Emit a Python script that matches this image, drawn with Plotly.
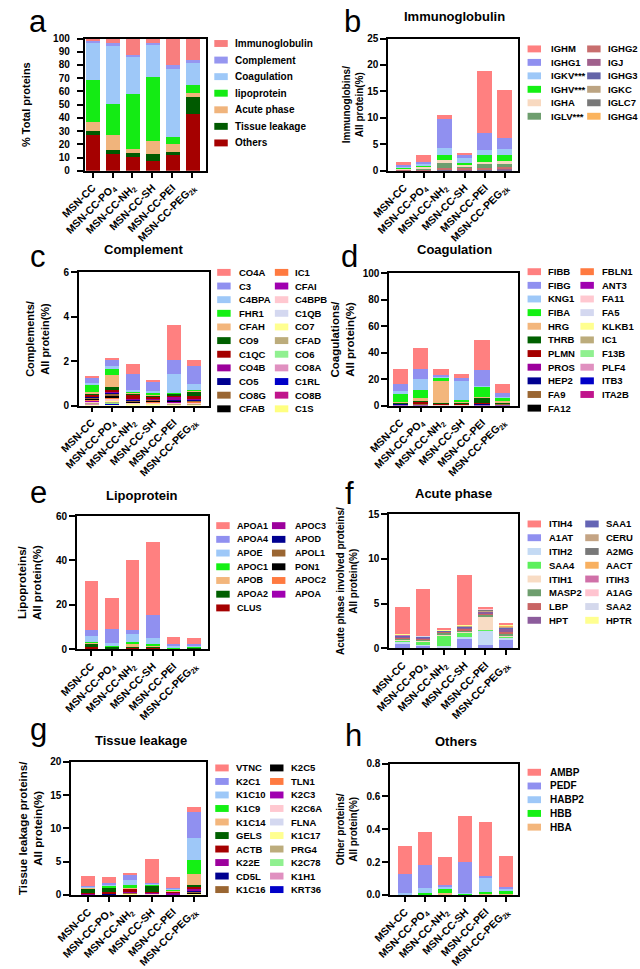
import plotly.graph_objects as go

W, H = 640, 969
FONT = "Liberation Sans, Arial, sans-serif"

samples = ["MSN-CC", "MSN-CC-PO<sub>4</sub>", "MSN-CC-NH<sub>2</sub>", "MSN-CC-SH",
           "MSN-CC-PEI", "MSN-CC-PEG<sub>2k</sub>"]

# ---------------- data (legend order: first item = top of stack) ----------------
total_names = ["Immunoglobulin", "Complement", "Coagulation", "lipoprotein",
               "Acute phase", "Tissue leakage", "Others"]
total_values = [
    [1.25, 3.0, 12.0, 3.25, 20.0, 16.25],
    [1.75, 2.5, 1.75, 1.25, 3.0, 1.75],
    [28.25, 43.75, 28.0, 24.25, 50.75, 16.5],
    [31.25, 23.25, 41.25, 48.75, 5.5, 6.0],
    [7.0, 11.75, 3.25, 9.25, 6.0, 3.25],
    [3.0, 2.75, 3.25, 5.25, 2.75, 13.25],
    [27.5, 13.0, 10.5, 8.0, 12.0, 43.0],
]

ig_names = ["IGHM", "IGHG1", "IGKV***", "IGHV***", "IGHA", "IGLV***",
            "IGHG2", "IGJ", "IGHG3", "IGKC", "IGLC7", "IGHG4"]
ig_values = [
    [0.35, 1.3, 0.75, 0.25, 11.8, 9.14],
    [0.35, 0.3, 5.5, 0.75, 3.1, 2.05],
    [0.2, 0.3, 1.2, 0.8, 1.05, 1.12],
    [0.3, 0.4, 1.0, 0.35, 1.25, 1.18],
    [0.1, 0.2, 0.6, 0.3, 0.35, 0.5],
    [0.15, 0.2, 0.8, 0.45, 0.7, 0.6],
    [0.1, 0.15, 0.3, 0.2, 0.3, 0.3],
    [0.03, 0.05, 0.1, 0.1, 0.1, 0.15],
    [0.03, 0.05, 0.1, 0.08, 0.1, 0.1],
    [0.03, 0.05, 0.1, 0.07, 0.1, 0.1],
    [0.02, 0.03, 0.05, 0.04, 0.05, 0.05],
    [0.02, 0.02, 0.05, 0.03, 0.05, 0.05],
]

comp_names = ["CO4A", "C3", "C4BPA", "FHR1", "CFAH", "CO9", "C1QC", "CO4B", "CO5",
              "CO8G", "CFAB", "IC1", "CFAI", "C4BPB", "C1QB", "CO7", "CFAD", "CO6",
              "CO8A", "C1RL", "CO8B", "C1S"]
comp_values = [
    [0.03, 0.04, 0.44, 0.03, 1.6, 0.25],
    [0.27, 0.3, 0.72, 0.44, 0.62, 0.82],
    [0.07, 0.15, 0.12, 0.05, 0.86, 0.29],
    [0.31, 0.25, 0.02, 0.13, 0.02, 0.02],
    [0.07, 0.54, 0.03, 0.02, 0.02, 0.03],
    [0.08, 0.14, 0.05, 0.06, 0.07, 0.2],
    [0.05, 0.08, 0.2, 0.08, 0.05, 0.12],
    [0.04, 0.06, 0.03, 0.03, 0.15, 0.06],
    [0.03, 0.05, 0.04, 0.03, 0.03, 0.04],
    [0.05, 0.1, 0.04, 0.05, 0.02, 0.03],
    [0.05, 0.05, 0.03, 0.04, 0.02, 0.02],
    [0.03, 0.04, 0.02, 0.03, 0.02, 0.02],
    [0.03, 0.04, 0.02, 0.02, 0.02, 0.03],
    [0.04, 0.06, 0.03, 0.03, 0.05, 0.02],
    [0.02, 0.03, 0.01, 0.01, 0.01, 0.01],
    [0.02, 0.04, 0.01, 0.01, 0.01, 0.01],
    [0.02, 0.03, 0.01, 0.01, 0.01, 0.01],
    [0.02, 0.03, 0.01, 0.01, 0.01, 0.01],
    [0.02, 0.03, 0.01, 0.01, 0.02, 0.01],
    [0.01, 0.01, 0.005, 0.005, 0.005, 0.01],
    [0.02, 0.02, 0.005, 0.005, 0.005, 0.01],
    [0.01, 0.03, 0.01, 0.01, 0.01, 0.01],
]

coag_names = ["FIBB", "FIBG", "KNG1", "FIBA", "HRG", "THRB", "PLMN", "PROS", "HEP2",
              "FA9", "FA12", "FBLN1", "ANT3", "FA11", "FA5", "KLKB1", "IC1", "F13B",
              "PLF4", "ITB3", "ITA2B"]
coag_values = [
    [11.7, 15.6, 4.5, 3.3, 22.8, 6.9],
    [4.9, 7.45, 1.2, 2.0, 11.8, 2.7],
    [2.5, 8.15, 0.8, 14.4, 1.0, 1.0],
    [5.7, 6.7, 2.2, 1.7, 7.7, 2.5],
    [0.8, 2.0, 16.6, 0.5, 0.3, 0.8],
    [0.4, 0.5, 0.8, 0.6, 4.0, 0.6],
    [0.4, 1.2, 0.5, 0.4, 0.6, 0.4],
    [0.1, 0.2, 0.1, 0.1, 0.3, 0.1],
    [0.1, 0.2, 0.1, 0.1, 0.1, 0.1],
    [0.2, 0.3, 0.2, 0.2, 0.2, 0.3],
    [0.1, 0.1, 0.05, 0.05, 0.1, 0.1],
    [0.1, 0.1, 0.05, 0.05, 0.1, 0.1],
    [0.1, 0.1, 0.05, 0.05, 0.1, 0.1],
    [0.05, 0.05, 0.02, 0.02, 0.05, 0.05],
    [0.05, 0.05, 0.02, 0.02, 0.05, 0.05],
    [0.05, 0.05, 0.02, 0.02, 0.05, 0.05],
    [0.05, 0.05, 0.02, 0.02, 0.05, 0.05],
    [0.05, 0.05, 0.02, 0.02, 0.05, 0.05],
    [0.05, 0.05, 0.02, 0.02, 0.05, 0.05],
    [0.05, 0.05, 0.02, 0.02, 0.05, 0.05],
    [0.05, 0.05, 0.02, 0.02, 0.05, 0.05],
]

lipo_names = ["APOA1", "APOA4", "APOE", "APOC1", "APOB", "APOA2", "CLUS",
              "APOC3", "APOD", "APOL1", "PON1", "APOC2", "APOA"]
lipo_values = [
    [22.1, 13.8, 31.4, 32.8, 3.0, 2.7],
    [2.7, 6.5, 1.9, 10.1, 1.0, 0.8],
    [2.5, 1.2, 3.7, 3.0, 1.0, 0.6],
    [0.6, 0.3, 0.3, 0.5, 0.1, 0.3],
    [0.4, 0.2, 1.8, 0.3, 0.1, 0.2],
    [1.6, 0.6, 0.3, 0.9, 0.1, 0.4],
    [0.3, 0.2, 0.2, 0.2, 0.05, 0.05],
    [0.1, 0.05, 0.1, 0.1, 0.05, 0.05],
    [0.1, 0.05, 0.1, 0.05, 0.05, 0.04],
    [0.1, 0.05, 0.1, 0.05, 0.02, 0.02],
    [0.1, 0.05, 0.05, 0.05, 0.01, 0.02],
    [0.05, 0.03, 0.05, 0.03, 0.01, 0.01],
    [0.05, 0.02, 0.05, 0.02, 0.01, 0.01],
]

acute_names = ["ITIH4", "A1AT", "ITIH2", "SAA4", "ITIH1", "MASP2", "LBP", "HPT",
               "SAA1", "CERU", "A2MG", "AACT", "ITIH3", "A1AG", "SAA2", "HPTR"]
acute_values = [
    [3.05, 5.26, 0.26, 5.59, 0.2, 0.25],
    [0.5, 0.25, 0.05, 1.05, 0.3, 0.9],
    [0.2, 0.1, 0.2, 0.15, 1.65, 0.25],
    [0.2, 0.4, 1.2, 0.55, 0.05, 0.1],
    [0.1, 0.1, 0.05, 0.1, 1.55, 0.2],
    [0.1, 0.15, 0.3, 0.15, 0.2, 0.2],
    [0.1, 0.1, 0.05, 0.15, 0.15, 0.2],
    [0.1, 0.1, 0.05, 0.15, 0.15, 0.3],
    [0.08, 0.05, 0.03, 0.15, 0.1, 0.2],
    [0.03, 0.02, 0.02, 0.05, 0.1, 0.05],
    [0.03, 0.02, 0.03, 0.02, 0.05, 0.05],
    [0.02, 0.02, 0.01, 0.02, 0.03, 0.03],
    [0.02, 0.02, 0.01, 0.02, 0.03, 0.05],
    [0.02, 0.02, 0.01, 0.02, 0.02, 0.03],
    [0.02, 0.02, 0.01, 0.01, 0.02, 0.02],
    [0.01, 0.01, 0.01, 0.01, 0.01, 0.01],
]
# stacking order seen in panel f (bottom -> top)
acute_stack = ["A1AT", "ITIH2", "SAA4", "ITIH1", "MASP2", "LBP", "HPT", "SAA1", "CERU",
               "A2MG", "AACT", "ITIH3", "A1AG", "SAA2", "HPTR", "ITIH4"]

tissue_names = ["VTNC", "K2C1", "K1C10", "K1C9", "K1C14", "GELS", "ACTB", "K22E", "CD5L",
                "K1C16", "K2C5", "TLN1", "K2C3", "K2C6A", "FLNA", "K1C17", "PRG4",
                "K2C78", "K1H1", "KRT36"]
tissue_values = [
    [1.52, 0.84, 0.25, 3.6, 1.58, 0.73],
    [0.1, 0.25, 0.85, 0.15, 0.1, 3.96],
    [0.1, 0.2, 0.65, 0.2, 0.2, 3.31],
    [0.05, 0.25, 0.45, 0.1, 0.2, 2.02],
    [0.05, 0.1, 0.15, 0.05, 0.05, 1.73],
    [0.75, 0.55, 0.05, 0.95, 0.1, 0.1],
    [0.1, 0.25, 0.45, 0.1, 0.1, 0.45],
    [0.05, 0.1, 0.1, 0.05, 0.1, 0.25],
    [0.02, 0.03, 0.03, 0.02, 0.05, 0.15],
    [0.02, 0.05, 0.05, 0.03, 0.02, 0.1],
    [0.01, 0.02, 0.02, 0.02, 0.02, 0.1],
    [0.01, 0.01, 0.02, 0.01, 0.01, 0.05],
    [0.01, 0.01, 0.01, 0.01, 0.02, 0.05],
    [0.01, 0.01, 0.02, 0.02, 0.05, 0.02],
    [0.01, 0.01, 0.01, 0.01, 0.02, 0.02],
    [0.01, 0.02, 0.15, 0.1, 0.02, 0.02],
    [0.01, 0.01, 0.03, 0.02, 0.01, 0.02],
    [0.01, 0.01, 0.03, 0.02, 0.03, 0.02],
    [0.01, 0.01, 0.02, 0.01, 0.02, 0.02],
    [0.01, 0.01, 0.01, 0.01, 0.01, 0.1],
]

other_names = ["AMBP", "PEDF", "HABP2", "HBB", "HBA"]
other_values = [
    [0.172, 0.204, 0.17, 0.284, 0.33, 0.19],
    [0.115, 0.136, 0.01, 0.187, 0.006, 0.01],
    [0.01, 0.034, 0.012, 0.003, 0.088, 0.014],
    [0.003, 0.008, 0.025, 0.01, 0.016, 0.022],
    [0.002, 0.004, 0.015, 0.002, 0.006, 0.006],
]

# ---------------- styles ----------------
palette = ["#FF8080", "#9090F0", "#9EC8F8", "#14F014", "#F3B67C", "#006000", "#A50000",
           "#9C009C", "#000090", "#9A6632", "#000000", "#FF7A40", "#A000B0", "#FFC8D0",
           "#D4D8F0", "#FFFF90", "#BCAC7C", "#90F090", "#E090C0", "#0000C8", "#C0148C",
           "#FFFF80"]
total_colors = ["#F87E7E", "#9696F0", "#9EC8F8", "#14EB14", "#F0B47C", "#005A00", "#A50000"]
ig_colors = ["#FF8080", "#9090F0", "#9EC8F8", "#14F014", "#F8D9C0", "#6E9E6E",
             "#C86E6E", "#A0608C", "#6464A8", "#BCA482", "#787878", "#FBB45E"]
acute_colors = ["#FF8080", "#9090F0", "#C4DAF4", "#5CF05C", "#F8DCC4", "#6E9E6E",
                "#C86464", "#8C5C9C", "#6464B4", "#C4A484", "#787878", "#F8B060",
                "#D070A8", "#FFC4D0", "#D4D8EC", "#FFFF90"]
other_colors = ["#FF8080", "#9090F0", "#9EC8F8", "#14F014", "#F3B67C"]


def px_x(x):
    return x / W


def px_y(y):
    return 1 - y / H


panels = [
    dict(letter="a", letter_xy=(2, 16), names=total_names, values=total_values,
         colors=total_colors, stack=None, box=(62, 33, 188, 167), yr=(0, 100), dtick=10,
         tfmt="", xr=(-0.4, 5.67), bw=0.71, ytitle="% Total proteins", yts=11, so=20,
         tls=5, title=None, tpos=None,
         leg=dict(cols=[(197, 218)], rows=7, y0=38, dy=16.8, fs=10)),
    dict(letter="b", letter_xy=(330, 16), names=ig_names, values=ig_values,
         colors=ig_colors, stack=None, box=(378, 33, 513, 167), yr=(0, 25), dtick=5,
         tfmt="", xr=(-0.77, 5.63), bw=0.74,
         ytitle="Immunoglobins/<br>All protein(%)", yts=10, so=2, tls=0,
         title="Immunoglobulin", tpos=(447, 11),
         leg=dict(cols=[(523, 546), (585, 606)], rows=6, y0=43.5, dy=13.65, fs=9.5)),
    dict(letter="c", letter_xy=(3, 254), names=comp_names, values=comp_values,
         colors=palette, stack=None, box=(56, 270, 191, 405), yr=(0, 6), dtick=2,
         tfmt="", xr=(-0.62, 5.7), bw=0.69,
         ytitle="Complements/<br>All protein(%)", yts=11, so=12, tls=0,
         title="Complement", tpos=(123, 247),
         leg=dict(cols=[(200, 222), (260, 280)], rows=11, y0=270, dy=13.83, fs=9.5)),
    dict(letter="d", letter_xy=(327, 254), names=coag_names, values=coag_values,
         colors=palette, stack=None, box=(379, 271, 513, 405), yr=(0, 100), dtick=20,
         tfmt="", xr=(-0.55, 5.75), bw=0.75,
         ytitle="Coagulations/<br>All protein(%)", yts=11.5, so=6, tls=0,
         title="Coagulation", tpos=(447, 247),
         leg=dict(cols=[(523, 543), (578, 599)], rows=11, y0=269.3, dy=13.83, fs=9.5)),
    dict(letter="e", letter_xy=(3, 493), names=lipo_names, values=lipo_values,
         colors=palette, stack=None, box=(54, 517, 190, 652), yr=(0, 60), dtick=20,
         tfmt="", xr=(-0.7, 5.66), bw=0.67,
         ytitle="Lipoproteins/<br>All protein(%)", yts=11.5, so=12, tls=0,
         title="Lipoprotein", tpos=(122, 496),
         leg=dict(cols=[(199, 220), (257, 280)], rows=7, y0=526.7, dy=13.9, fs=9)),
    dict(letter="f", letter_xy=(331, 494), names=acute_names, values=acute_values,
         colors=acute_colors, stack=acute_stack, box=(379, 515, 513, 651), yr=(0, 15),
         dtick=5, tfmt="", xr=(-0.65, 5.57), bw=0.7,
         ytitle="Acute phase involved proteins/<br>All protein(%)", yts=10, so=9, tls=0,
         title="Acute phase", tpos=(446, 494),
         leg=dict(cols=[(523, 544), (583, 604)], rows=8, y0=525, dy=13.95, fs=9.5)),
    dict(letter="g", letter_xy=(3, 733), names=tissue_names, values=tissue_values,
         colors=palette, stack=None, box=(48, 766, 188, 901), yr=(0, 20), dtick=5,
         tfmt="", xr=(-0.8, 5.55), bw=0.66,
         ytitle="Tissue leakage proteins/<br>All protein(%)", yts=11.5, so=5, tls=0,
         title="Tissue leakage", tpos=(121, 744),
         leg=dict(cols=[(198, 219), (255, 276)], rows=10, y0=772.3, dy=13.7, fs=9.5)),
    dict(letter="h", letter_xy=(331, 739), names=other_names, values=other_values,
         colors=other_colors, stack=None, box=(380, 768, 513, 901), yr=(0, 0.8),
         dtick=0.2, tfmt=".1f", xr=(-0.73, 5.6), bw=0.68,
         ytitle="Other proteins/<br>All protein(%)", yts=10, so=7, tls=0,
         title="Others", tpos=(448, 746),
         leg=dict(cols=[(523, 545)], rows=5, y0=776.7, dy=13.9, fs=10)),
]

fig = go.Figure()
shapes = []
annotations = []
layout_axes = {}

for i, p in enumerate(panels):
    n = i + 1
    xa = "x" if n == 1 else f"x{n}"
    ya = "y" if n == 1 else f"y{n}"
    color_of = {nm: p["colors"][k] for k, nm in enumerate(p["names"])}
    value_of = {nm: p["values"][k] for k, nm in enumerate(p["names"])}
    order = p["stack"] if p["stack"] else list(reversed(p["names"]))
    for nm in order:
        fig.add_trace(go.Bar(
            x=samples, y=value_of[nm], name=nm, xaxis=xa, yaxis=ya,
            width=p["bw"], marker=dict(color=color_of[nm], line=dict(width=0)),
            showlegend=False))

    x0, y0, x1, y1 = p["box"]
    layout_axes[f"xaxis{'' if n == 1 else n}"] = dict(
        domain=[px_x(x0), px_x(x1)], anchor=ya, range=list(p["xr"]),
        type="category", showline=True, linecolor="black", linewidth=1.6, mirror=True,
        ticks="outside", ticklen=5, tickwidth=1.5, tickcolor="black", tickangle=-45,
        showgrid=False, zeroline=False,
        tickfont=dict(family=FONT, size=10.5, color="black", weight="bold"))
    layout_axes[f"yaxis{'' if n == 1 else n}"] = dict(
        domain=[px_y(y1), px_y(y0)], anchor=xa, range=list(p["yr"]), dtick=p["dtick"],
        tick0=0, tickformat=p["tfmt"], showline=True, linecolor="black", linewidth=1.6,
        mirror=True, ticks="outside", ticklen=6, tickwidth=1.5, tickcolor="black",
        ticklabelstandoff=p["tls"], showgrid=False, zeroline=False,
        tickfont=dict(family=FONT, size=10, color="black", weight="bold"),
        title=dict(text=p["ytitle"], standoff=p["so"],
                   font=dict(family=FONT, size=p["yts"], color="black", weight="bold")))

    # panel letter
    lx, ly = p["letter_xy"]
    annotations.append(dict(text=p["letter"], x=px_x(lx), y=px_y(ly), xref="paper",
                            yref="paper", xanchor="left", yanchor="middle",
                            showarrow=False,
                            font=dict(family=FONT, size=31, color="black")))
    # panel title
    if p["title"]:
        tx, ty = p["tpos"]
        annotations.append(dict(text=p["title"], x=px_x(tx), y=px_y(ty), xref="paper",
                                yref="paper", xanchor="center", yanchor="middle",
                                showarrow=False,
                                font=dict(family=FONT, size=13, color="black",
                                          weight="bold")))
    # legend (drawn beside each panel, following its colours)
    leg = p["leg"]
    sw, sh = 14, 7
    for ci, (sx, tx) in enumerate(leg["cols"]):
        for ri in range(leg["rows"]):
            k = ci * leg["rows"] + ri
            if k >= len(p["names"]):
                break
            yc = leg["y0"] + ri * leg["dy"]
            shapes.append(dict(type="rect", xref="paper", yref="paper",
                               x0=px_x(sx), x1=px_x(sx + sw),
                               y0=px_y(yc + sh / 2), y1=px_y(yc - sh / 2),
                               fillcolor=p["colors"][k], line=dict(width=0)))
            annotations.append(dict(text=p["names"][k], x=px_x(tx), y=px_y(yc),
                                    xref="paper", yref="paper", xanchor="left",
                                    yanchor="middle", showarrow=False, borderpad=0,
                                    font=dict(family=FONT, size=leg["fs"], color="black",
                                              weight="bold")))

fig.update_layout(
    width=W, height=H, margin=dict(l=0, r=0, t=0, b=0),
    paper_bgcolor="white", plot_bgcolor="white", barmode="stack", bargap=0,
    showlegend=False, shapes=shapes, annotations=annotations,
    font=dict(family=FONT, color="black"), **layout_axes)

fig.write_html("out.html")
